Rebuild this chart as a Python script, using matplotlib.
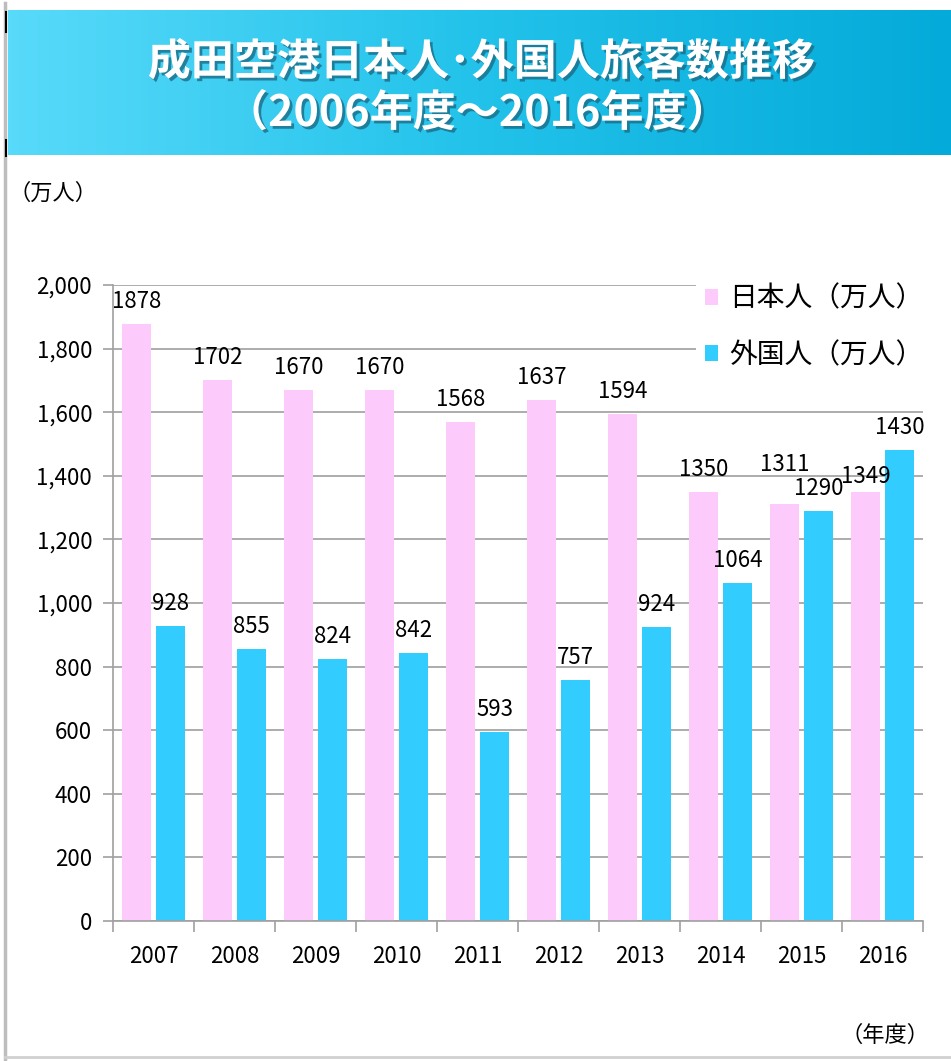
import numpy as np
import matplotlib.pyplot as plt
import matplotlib.patheffects as pe
from matplotlib.colors import LinearSegmentedColormap

plt.rcParams['font.family'] = ['Noto Sans CJK JP', 'DejaVu Sans']

years = ['2007', '2008', '2009', '2010', '2011', '2012', '2013', '2014', '2015', '2016']
japanese = [1878, 1702, 1670, 1670, 1568, 1637, 1594, 1350, 1311, 1349]
foreign = [928, 855, 824, 842, 593, 757, 924, 1064, 1290, 1482]
japanese_labels = ['1878', '1702', '1670', '1670', '1568', '1637', '1594', '1350', '1311', '1349']
foreign_labels = ['928', '855', '824', '842', '593', '757', '924', '1064', '1290', '1430']

W, H = 951, 1061
fig = plt.figure(figsize=(W/100, H/100), dpi=100)

def px(x0, y0, x1, y1):
    return [x0/W, 1-y1/H, (x1-x0)/W, (y1-y0)/H]

# banner
bn = fig.add_axes(px(8, 10, 951, 155))
cmap = LinearSegmentedColormap.from_list('bn', ['#58dafa', '#22c2ea', '#04aad9'])
bn.imshow(np.linspace(0, 1, 256)[None, :], aspect='auto', cmap=cmap, extent=[0, 1, 0, 1])
bn.set_axis_off()
shadow = [pe.withSimplePatchShadow(offset=(2, -2), shadow_rgbFace='#1a6d88', alpha=0.8)]
fig.text(481/W, 1-62/H, '成田空港日本人･外国人旅客数推移', color='white', fontsize=31,
         fontweight='bold', ha='center', va='center', path_effects=shadow)
fig.text(477/W, 1-113/H, '（2006年度～2016年度）', color='white', fontsize=31,
         fontweight='bold', ha='center', va='center', path_effects=shadow)

# left and bottom frame lines
fig.add_artist(plt.Line2D([5/W, 5/W], [0, 1-3/H], color='#bdbdbd', lw=2.5))
fig.add_artist(plt.Line2D([5/W, 1], [1-1057/H, 1-1057/H], color='#d0d0d0', lw=2))
fig.add_artist(plt.Line2D([6/W, 6/W], [1-12/H, 1-32/H], color='black', lw=1.5))
fig.add_artist(plt.Line2D([6/W, 6/W], [1-140/H, 1-156/H], color='black', lw=1.5))

fig.text(8/W, 1-193/H, '（万人）', fontsize=16, ha='left', va='center')
fig.text(930/W, 1-1035/H, '（年度）', fontsize=16, ha='right', va='center')

ax = fig.add_axes(px(113, 285, 923, 921))
x = np.arange(len(years))
w = 0.37
b1 = ax.bar(x - 0.21, japanese, w, color='#fdcbfb', label='日本人（万人）', zorder=2)
b2 = ax.bar(x + 0.21, foreign, w, color='#33ccff', label='外国人（万人）', zorder=2)

for i, (rect, lab) in enumerate(zip(b1, japanese_labels)):
    dy = 8
    if years[i] == '2015':
        dy = 20
    elif years[i] == '2016':
        dy = 3
    ax.annotate(lab, (rect.get_x() + rect.get_width()/2, rect.get_height()),
                xytext=(0, dy), textcoords='offset points', ha='center', va='bottom',
                fontsize=16, zorder=4)
for rect, lab in zip(b2, foreign_labels):
    ax.annotate(lab, (rect.get_x() + rect.get_width()/2, rect.get_height()),
                xytext=(0, 8), textcoords='offset points', ha='center', va='bottom',
                fontsize=16, zorder=4)

ax.set_xlim(-0.5, len(years) - 0.5)
ax.set_ylim(0, 2000)
ax.set_yticks(np.arange(0, 2001, 200))
ax.set_yticklabels([f'{v:,}' for v in range(0, 2001, 200)], fontsize=16)
ax.set_xticks(x)
ax.set_xticklabels(years, fontsize=16)
ax.set_xticks(np.arange(-0.5, len(years), 1), minor=True)
ax.tick_params(axis='x', which='major', length=0, pad=17)
ax.tick_params(axis='x', which='minor', length=8, color='#a0a0a0', width=1.2)
ax.tick_params(axis='y', length=7, color='#a0a0a0', width=1.2, pad=8)
ax.grid(axis='y', color='#a6a6a6', lw=1.3, zorder=0)
for s in ['top', 'right']:
    ax.spines[s].set_visible(False)
for s in ['left', 'bottom']:
    ax.spines[s].set_color('#a0a0a0')
    ax.spines[s].set_linewidth(1.2)

leg = ax.legend(loc='upper left', bbox_to_anchor=(0.72, 1.015), fontsize=20, frameon=True,
                handlelength=0.5, handleheight=0.5, handletextpad=0.4, labelspacing=0.95,
                borderaxespad=0, borderpad=0.3)
leg.get_frame().set_facecolor('white')
leg.get_frame().set_edgecolor('none')
leg.get_frame().set_alpha(1)
leg.set_zorder(5)

fig.savefig('out.png', dpi=100)
